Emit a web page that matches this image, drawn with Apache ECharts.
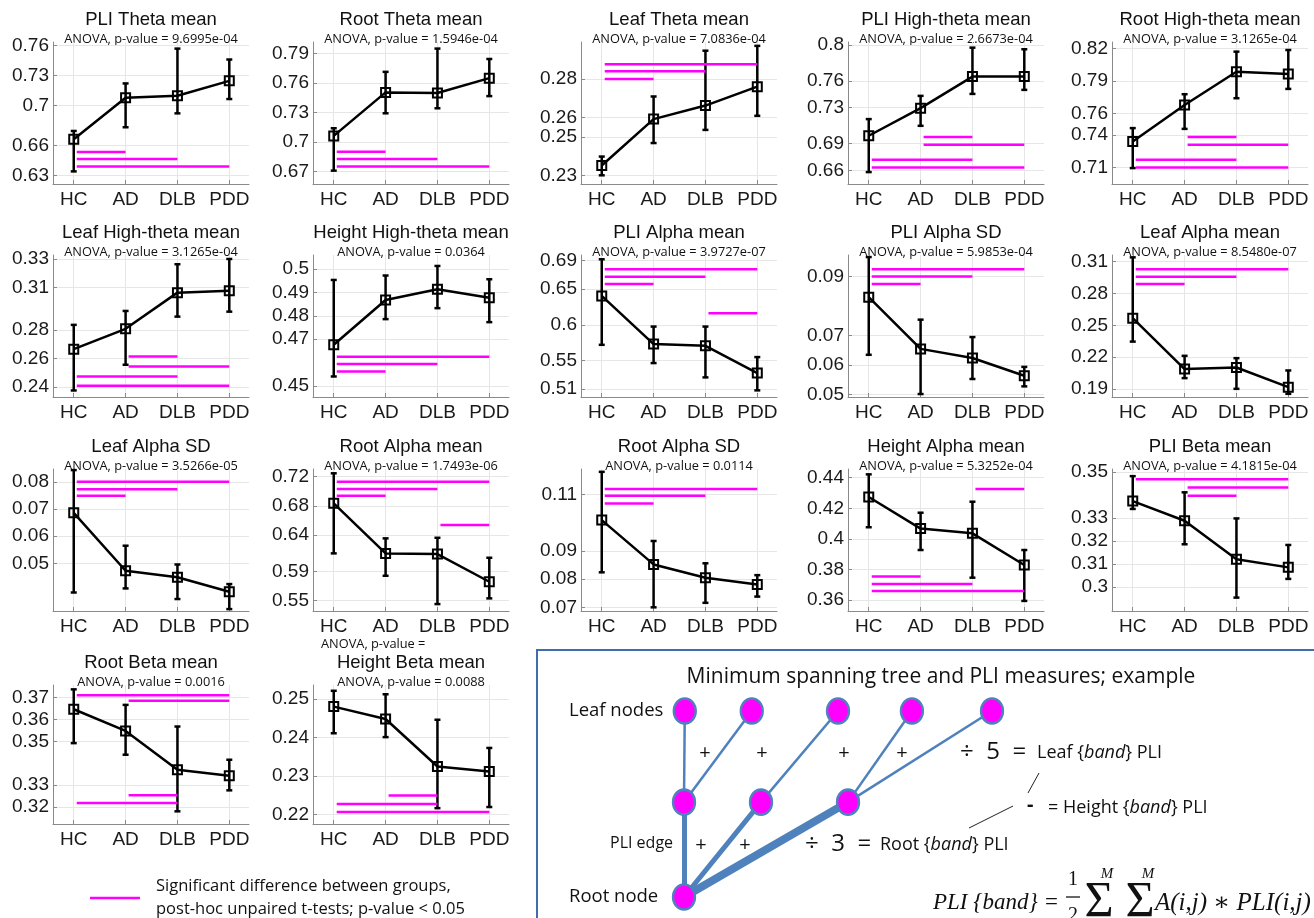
<!DOCTYPE html>
<html>
<head>
<meta charset="utf-8">
<script src="https://cdn.jsdelivr.net/npm/echarts@6/dist/echarts.min.js"></script>
<style>
html, body { margin: 0; padding: 0; background: #fff; }
#main { width: 1314px; height: 918px; }
</style>
</head>
<body>
<div id="main"></div>
<script>
// groups on the x axis
var groups = ['HC', 'AD', 'DLB', 'PDD'];

var titles = [
  'PLI Theta mean', 'Root Theta mean', 'Leaf Theta mean', 'PLI High-theta mean', 'Root High-theta mean',
  'Leaf High-theta mean', 'Height High-theta mean', 'PLI Alpha mean', 'PLI Alpha SD', 'Leaf Alpha mean',
  'Leaf Alpha SD', 'Root Alpha mean', 'Root Alpha SD', 'Height Alpha mean', 'PLI Beta mean',
  'Root Beta mean', 'Height Beta mean'
];
var pValues = [
  '9.6995e-04', '1.5946e-04', '7.0836e-04', '2.6673e-04', '3.1265e-04',
  '3.1265e-04', '0.0364', '3.9727e-07', '5.9853e-04', '8.5480e-07',
  '3.5266e-05', '1.7493e-06', '0.0114', '5.3252e-04', '4.1815e-04',
  '0.0016', '0.0088'
];

// y tick values of each panel
var yTicks = [
  [0.63, 0.66, 0.7, 0.73, 0.76], [0.67, 0.7, 0.73, 0.76, 0.79], [0.23, 0.25, 0.26, 0.28],
  [0.66, 0.69, 0.73, 0.76, 0.8], [0.71, 0.74, 0.76, 0.79, 0.82],
  [0.24, 0.26, 0.28, 0.31, 0.33], [0.45, 0.47, 0.48, 0.49, 0.5], [0.51, 0.55, 0.6, 0.65, 0.69],
  [0.05, 0.06, 0.07, 0.09], [0.19, 0.22, 0.25, 0.28, 0.31],
  [0.05, 0.06, 0.07, 0.08], [0.55, 0.59, 0.64, 0.68, 0.72], [0.07, 0.08, 0.09, 0.11],
  [0.36, 0.38, 0.4, 0.42, 0.44], [0.3, 0.31, 0.32, 0.33, 0.35],
  [0.32, 0.33, 0.35, 0.36, 0.37], [0.22, 0.23, 0.24, 0.25]
];
// y axis range [min, max] of each panel
var yRanges = [
  [0.6214, 0.7633], [0.6572, 0.8018], [0.2256, 0.2991], [0.6449, 0.8033], [0.6947, 0.8258],
  [0.233, 0.333], [0.4452, 0.5061], [0.4988, 0.698], [0.0492, 0.0973], [0.1825, 0.3163],
  [0.0325, 0.0847], [0.5359, 0.7306], [0.0687, 0.119], [0.3528, 0.4457], [0.2897, 0.3512],
  [0.3122, 0.3758], [0.2176, 0.2536]
];

// centre values per group (HC, AD, DLB, PDD)
var means = [
  [0.6662, 0.7076, 0.7096, 0.7245], [0.7062, 0.7505, 0.7498, 0.765], [0.2352, 0.2592, 0.2662, 0.276],
  [0.6987, 0.7295, 0.7647, 0.7647], [0.7339, 0.7677, 0.7984, 0.7963],
  [0.2667, 0.281, 0.3065, 0.3079], [0.4676, 0.4868, 0.4914, 0.4878], [0.6406, 0.573, 0.5706, 0.5324],
  [0.083, 0.0655, 0.0624, 0.0564], [0.2568, 0.2088, 0.2103, 0.1918],
  [0.0686, 0.0473, 0.0449, 0.0396], [0.6835, 0.6149, 0.614, 0.576], [0.1009, 0.0852, 0.0805, 0.0781],
  [0.4274, 0.4067, 0.4036, 0.3829], [0.3373, 0.3288, 0.3121, 0.3086],
  [0.3647, 0.3548, 0.337, 0.3343], [0.248, 0.2448, 0.2325, 0.2312]
];
// lower ends of the error bars
var lows = [
  [0.634, 0.6781, 0.692, 0.7063], [0.6708, 0.7292, 0.7343, 0.7467], [0.2301, 0.2468, 0.2536, 0.2609],
  [0.6582, 0.7098, 0.7454, 0.7499], [0.7094, 0.7456, 0.7739, 0.7825],
  [0.2376, 0.2557, 0.2896, 0.2931], [0.454, 0.4786, 0.4833, 0.4773], [0.572, 0.5464, 0.5263, 0.5081],
  [0.0635, 0.0502, 0.0553, 0.0528], [0.2347, 0.2003, 0.1902, 0.1855],
  [0.0393, 0.0408, 0.0369, 0.0332], [0.6149, 0.5842, 0.5454, 0.5532], [0.0824, 0.07, 0.0716, 0.0738],
  [0.4076, 0.3927, 0.3746, 0.3594], [0.3339, 0.3186, 0.2955, 0.3036],
  [0.3492, 0.3439, 0.318, 0.3276], [0.2411, 0.2401, 0.2217, 0.222]
];
// upper ends of the error bars
var highs = [
  [0.6744, 0.7219, 0.7567, 0.7458], [0.714, 0.7714, 0.7951, 0.7845], [0.2398, 0.2709, 0.2946, 0.2971],
  [0.7173, 0.7432, 0.797, 0.7952], [0.7463, 0.7776, 0.8169, 0.8184],
  [0.2838, 0.2936, 0.3265, 0.3302], [0.4954, 0.4973, 0.5014, 0.4957], [0.692, 0.5976, 0.5976, 0.5548],
  [0.0966, 0.0754, 0.0695, 0.0594], [0.3141, 0.2213, 0.2191, 0.2075],
  [0.0843, 0.0565, 0.0496, 0.0424], [0.7247, 0.6355, 0.6363, 0.6089], [0.118, 0.0935, 0.0856, 0.0814],
  [0.4422, 0.4171, 0.4243, 0.3927], [0.3481, 0.3411, 0.3298, 0.3183],
  [0.3738, 0.3667, 0.3568, 0.3416], [0.2521, 0.2512, 0.2446, 0.2373]
];
// significant pairs: [from group, to group, y level]
var sigBars = [
  [[0, 1, 0.6535], [0, 2, 0.6463], [0, 3, 0.6389]],
  [[0, 1, 0.69], [0, 2, 0.6826], [0, 3, 0.6751]],
  [[0, 3, 0.2876], [0, 2, 0.284], [0, 1, 0.28]],
  [[1, 2, 0.6972], [1, 3, 0.6886], [0, 2, 0.6719], [0, 3, 0.6634]],
  [[1, 2, 0.738], [1, 3, 0.7309], [0, 2, 0.7171], [0, 3, 0.71]],
  [[1, 2, 0.2615], [1, 3, 0.2545], [0, 2, 0.2474], [0, 3, 0.2409]],
  [[0, 3, 0.4625], [0, 2, 0.4594], [0, 1, 0.4561]],
  [[0, 3, 0.678], [0, 2, 0.6676], [0, 1, 0.6574], [2, 3, 0.6164]],
  [[0, 3, 0.0925], [0, 2, 0.09], [0, 1, 0.0875]],
  [[0, 3, 0.3028], [0, 2, 0.2959], [0, 1, 0.289]],
  [[0, 3, 0.08], [0, 2, 0.0773], [0, 1, 0.0749]],
  [[0, 3, 0.7131], [0, 2, 0.7031], [0, 1, 0.6939], [2, 3, 0.6537]],
  [[0, 3, 0.1119], [0, 2, 0.1095], [0, 1, 0.1068]],
  [[2, 3, 0.4326], [0, 1, 0.3753], [0, 2, 0.3705], [0, 3, 0.3659]],
  [[0, 3, 0.3468], [1, 3, 0.3432], [1, 2, 0.3396]],
  [[0, 3, 0.3711], [1, 3, 0.3686], [1, 2, 0.3253], [0, 2, 0.3218]],
  [[1, 2, 0.225], [0, 2, 0.2228], [0, 3, 0.2207]]
];

// minimum spanning tree example: 5 leaves, 3 middle nodes, 1 root
var treeNodeX = [0.01, 0.88, 2.0, 2.96, 4.0, 0, 1.0, 2.13, 0];
var treeNodeLevel = [2, 2, 2, 2, 2, 1.02, 1.02, 1.02, 0];
var treeLinks = [[0, 5], [1, 5], [2, 6], [3, 7], [4, 7], [5, 8], [6, 8], [7, 8]];
var treeLinkWeight = [1, 1, 1, 1, 1, 2, 2, 3.2];

// panel layout
var colLeft = [53, 313, 581, 848, 1112];
var rowTop = [42, 255, 469, 685];
var rowHeight = [142, 142, 142, 139];
var plotWidth = 196;

var MAGENTA = '#ff00ff';
var TREE_BLUE = '#4f81bd';
var SANS = '"Liberation Sans", Arial, sans-serif';
var CAL = '"Open Sans", "Noto Sans", sans-serif';
var SERIF = '"Liberation Serif", "DejaVu Serif", serif';

var grids = [], xAxes = [], yAxes = [], series = [], graphics = [];

function txt(x, y, s, font, align, rich) {
	return { type: 'text', x: x, y: y, silent: true,
		style: { text: s, font: font, fill: '#111', align: align || 'left', verticalAlign: 'middle',
			textAlign: align || 'left', textVerticalAlign: 'middle', rich: rich } };
}

titles.forEach(function(t, i) {
	var r = Math.floor(i / 5), c = i % 5;
	var left = colLeft[c], top = rowTop[r];
	grids.push({ left: left, top: top, width: plotWidth, height: rowHeight[r] });
	xAxes.push({
		gridIndex: i, type: 'value', min: -0.4, max: 3.38,
		axisLine: { show: true, onZero: false, lineStyle: { color: '#8a8a8a', width: 1 } },
		axisTick: { show: true, inside: true, length: 4, customValues: [0, 1, 2, 3], lineStyle: { color: '#8a8a8a' } },
		axisLabel: {
			customValues: [0, 1, 2, 3], margin: 6, fontSize: 19, fontFamily: SANS, color: '#1a1a1a',
			formatter: function(v) { return groups[Math.round(v)]; }
		},
		splitLine: { show: true, lineStyle: { color: '#e6e6e6', width: 1 } }
	});
	yAxes.push({
		gridIndex: i, type: 'value', min: yRanges[i][0], max: yRanges[i][1],
		axisLine: { show: true, onZero: false, lineStyle: { color: '#8a8a8a', width: 1 } },
		axisTick: { show: true, inside: true, length: 4, customValues: yTicks[i], lineStyle: { color: '#8a8a8a' } },
		axisLabel: {
			customValues: yTicks[i], margin: 4, fontSize: 19, fontFamily: SANS, color: '#1a1a1a',
			formatter: function(v) { return String(+v.toFixed(2)); }
		},
		splitLine: { show: true, lineStyle: { color: '#e6e6e6', width: 1 } }
	});
	// error bars
	series.push({
		type: 'custom', xAxisIndex: i, yAxisIndex: i, silent: true, z: 2,
		encode: { x: 0, y: [1, 2] },
		data: groups.map(function(g, k) { return [k, lows[i][k], highs[i][k]]; }),
		renderItem: function(params, api) {
			var hi = api.coord([api.value(0), api.value(2)]);
			var lo = api.coord([api.value(0), api.value(1)]);
			var st = { stroke: '#000', lineWidth: 2.5 };
			return { type: 'group', children: [
				{ type: 'line', shape: { x1: hi[0], y1: hi[1], x2: lo[0], y2: lo[1] }, style: st },
				{ type: 'line', shape: { x1: hi[0] - 3, y1: hi[1], x2: hi[0] + 3, y2: hi[1] }, style: st },
				{ type: 'line', shape: { x1: lo[0] - 3, y1: lo[1], x2: lo[0] + 3, y2: lo[1] }, style: st }
			] };
		}
	});
	// significance bars
	series.push({
		type: 'custom', xAxisIndex: i, yAxisIndex: i, silent: true, z: 2,
		encode: { x: [0, 1], y: 2 },
		data: sigBars[i],
		renderItem: function(params, api) {
			var a = api.coord([api.value(0), api.value(2)]);
			var b = api.coord([api.value(1), api.value(2)]);
			return { type: 'line', shape: { x1: a[0] + 3, y1: a[1], x2: b[0], y2: b[1] },
				style: { stroke: MAGENTA, lineWidth: 2.5 } };
		}
	});
	// group means
	series.push({
		type: 'line', xAxisIndex: i, yAxisIndex: i, silent: true, z: 3,
		data: means[i].map(function(m, k) { return [k, m]; }),
		symbol: 'rect', symbolSize: 9,
		itemStyle: { color: 'rgba(0,0,0,0)', borderColor: '#000', borderWidth: 2 },
		lineStyle: { color: '#000', width: 2.5 }
	});
	// titles
	var cx = left + plotWidth / 2;
	graphics.push(txt(cx, top - 22, t, '18.5px ' + SANS, 'center'));
	graphics.push(txt(cx, top - 3, 'ANOVA, p-value = ' + pValues[i], '12.8px ' + CAL, 'center'));
});

// stray label above "Height Beta mean"
graphics.push(txt(321, 644, 'ANOVA, p-value =', '12.8px ' + CAL));

// legend of the magenta bars
graphics.push({ type: 'line', shape: { x1: 90, y1: 898, x2: 140, y2: 898 }, style: { stroke: MAGENTA, lineWidth: 2.5 }, silent: true });
graphics.push(txt(156, 886, 'Significant difference between groups,', '16.5px ' + CAL));
graphics.push(txt(156, 909, 'post-hoc unpaired t-tests; p-value < 0.05', '16.5px ' + CAL));

// MST example panel
graphics.push({ type: 'rect', shape: { x: 537, y: 650, width: 800, height: 300 }, silent: true,
	style: { fill: 'none', stroke: '#3f6eaa', lineWidth: 2 } });
graphics.push(txt(941, 677, 'Minimum spanning tree and PLI measures; example', '21px ' + CAL, 'center'));
graphics.push(txt(569, 711, 'Leaf nodes', '18.5px ' + CAL));
graphics.push(txt(569, 897, 'Root node', '18.5px ' + CAL));
graphics.push(txt(610, 843, 'PLI edge', '16px ' + CAL));
[705, 762, 844, 902].forEach(function(x) { graphics.push(txt(x, 753, '+', '20px ' + CAL, 'center')); });
[701, 745].forEach(function(x) { graphics.push(txt(x, 845, '+', '20px ' + CAL, 'center')); });
var italicRich = { i: { fontStyle: 'italic', fontSize: 18, fontFamily: CAL } };
graphics.push(txt(960, 752, '\u00f7  5  =', '24px ' + CAL));
graphics.push(txt(1037, 753, 'Leaf {{i|band}} PLI', '18px ' + CAL, 'left', italicRich));
graphics.push(txt(1027, 805, '-', 'bold 20px ' + CAL));
graphics.push(txt(1048, 808, '= Height {{i|band}} PLI', '18px ' + CAL, 'left', italicRich));
graphics.push(txt(805, 844, '\u00f7  3  =', '24px ' + CAL));
graphics.push(txt(880, 845, 'Root {{i|band}} PLI', '18px ' + CAL, 'left', italicRich));
graphics.push({ type: 'line', shape: { x1: 1039, y1: 773, x2: 1028, y2: 793 }, style: { stroke: '#222', lineWidth: 1 }, silent: true });
graphics.push({ type: 'line', shape: { x1: 1013, y1: 806, x2: 969, y2: 828 }, style: { stroke: '#222', lineWidth: 1 }, silent: true });

// formula
graphics.push(txt(933, 903, 'PLI {band} =', 'italic 23px ' + SERIF));
graphics.push(txt(1073, 880, '1', '20px ' + SERIF, 'center'));
graphics.push({ type: 'line', shape: { x1: 1066, y1: 897, x2: 1080, y2: 897 }, style: { stroke: '#000', lineWidth: 1.2 }, silent: true });
graphics.push(txt(1073, 916, '2', '20px ' + SERIF, 'center'));
graphics.push(txt(1099, 903, '\u03a3', '50px ' + SERIF, 'center'));
graphics.push(txt(1140, 903, '\u03a3', '50px ' + SERIF, 'center'));
graphics.push(txt(1107, 874, 'M', 'italic 15px ' + SERIF, 'center'));
graphics.push(txt(1148, 874, 'M', 'italic 15px ' + SERIF, 'center'));
graphics.push(txt(1155, 903, 'A(i,j) \u2217 PLI(i,j)', 'italic 25px ' + SERIF));

// tree drawn on a hidden grid
var treeGrid = grids.length;
grids.push({ left: 684, top: 711, width: 308, height: 186 });
xAxes.push({ gridIndex: treeGrid, type: 'value', min: 0, max: 4, show: false });
yAxes.push({ gridIndex: treeGrid, type: 'value', min: 0, max: 2, show: false });
series.push({
	type: 'graph', coordinateSystem: 'cartesian2d', xAxisIndex: treeGrid, yAxisIndex: treeGrid,
	silent: true, z: 4,
	symbol: 'path://M0,-1A1,1 0 1,1 0,1A1,1 0 1,1 0,-1Z', symbolSize: [22, 25],
	itemStyle: { color: MAGENTA, borderColor: TREE_BLUE, borderWidth: 2.5 },
	label: { show: false },
	data: treeNodeX.map(function(x, k) { return { name: 'n' + k, value: [x, treeNodeLevel[k]] }; }),
	links: treeLinks.map(function(l, k) {
		return { source: l[0], target: l[1], lineStyle: { width: 2.5 * treeLinkWeight[k] } };
	}),
	lineStyle: { color: TREE_BLUE, opacity: 1, curveness: 0 }
});

var chart = echarts.init(document.getElementById('main'));
chart.setOption({
	animation: false,
	backgroundColor: '#fff',
	grid: grids,
	xAxis: xAxes,
	yAxis: yAxes,
	series: series,
	graphic: { elements: graphics }
});
</script>
</body>
</html>
